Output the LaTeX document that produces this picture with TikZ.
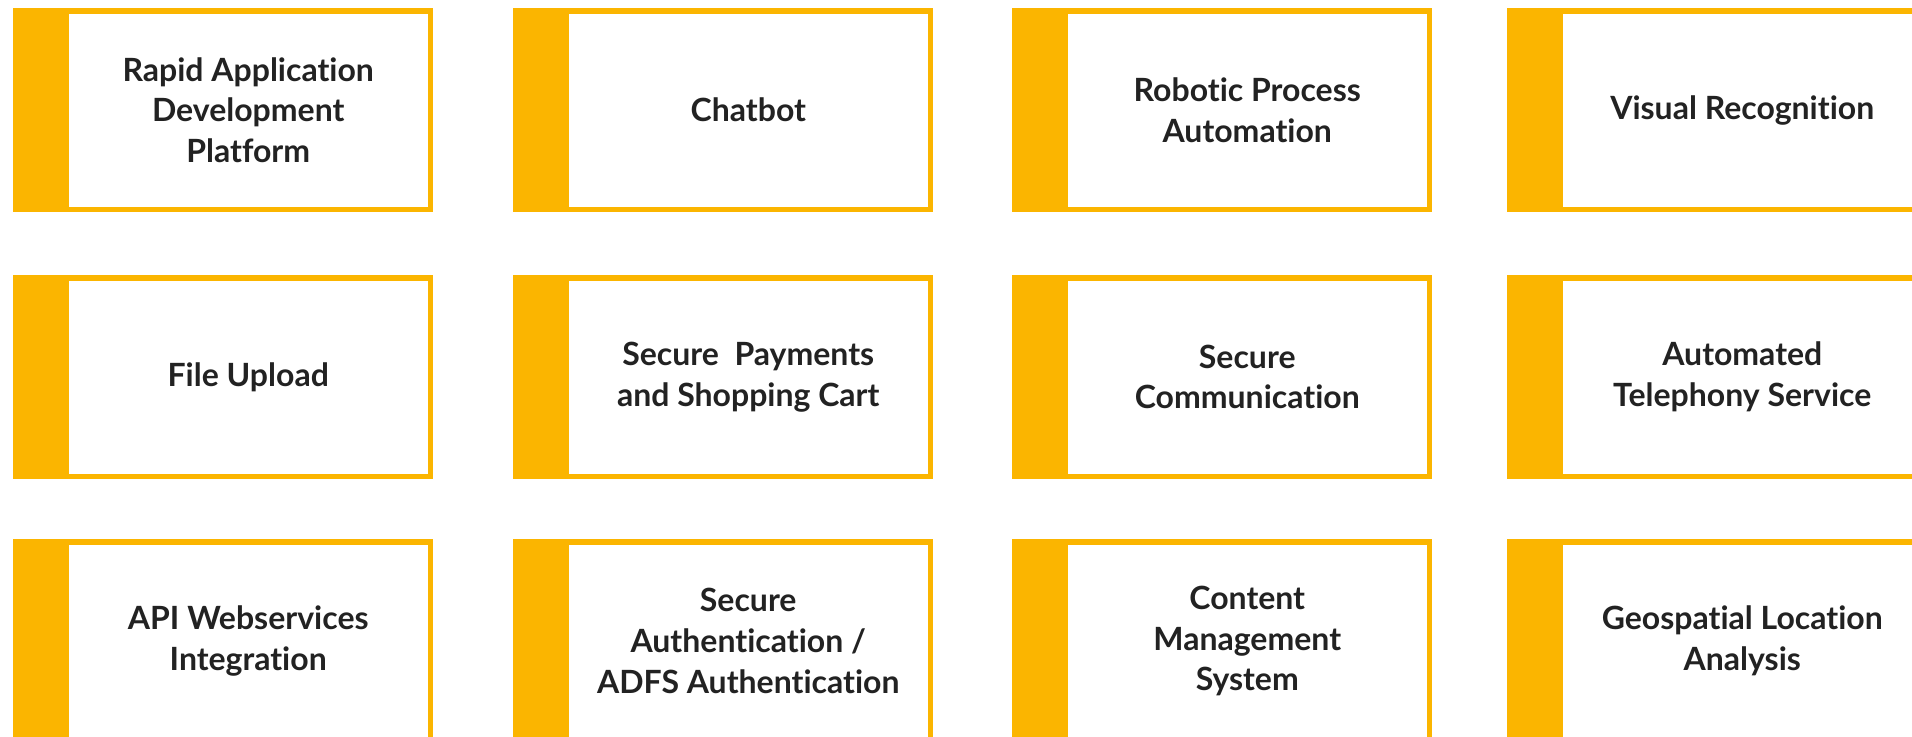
\documentclass[tikz,border=0pt]{standalone}
\usepackage{fontspec}
\setmainfont{Lato}[Ligatures=NoCommon]
\usepackage{xcolor}
\usepackage{tikz}
\usetikzlibrary{positioning}
\definecolor{tileGold}{HTML}{FBB500}
\definecolor{inkGrey}{HTML}{222222}

\begin{document}
\begin{tikzpicture}[x=0.5pt,y=-0.5pt,
  tile/.style={rectangle, draw=tileGold, line width=2.75pt, fill=white, outer sep=0pt,
    minimum width=182pt, minimum height=99.25pt, align=center, text=inkGrey,
    font=\fontsize{16}{20.3}\selectfont\bfseries}]
\useasboundingbox (0,0) rectangle (1912,736);
\clip (0,0) rectangle (1912,736);
% tiles: name / left edge / top edge / text
\foreach \n/\x/\y/\txt in {
  rad/13/7/{Rapid Application\\Development\\Platform},
  chat/513/7/{Chatbot},
  rpa/1012/7/{Robotic Process\\Automation},
  vis/1507/7/{Visual Recognition},
  upl/13/274/{File Upload},
  pay/513/274/{Secure\ \ Payments\\and Shopping Cart},
  comm/1012/274/{Secure\\Communication},
  tel/1507/274/{Automated\\Telephony Service},
  api/13/538/{API Webservices\\Integration},
  auth/513/538/{Secure\\Authentication /\\ADFS Authentication},
  cms/1012/538/{Content\\Management\\System},
  geo/1507/538/{Geospatial Location\\Analysis}}{
  \node[tile] (\n) at (\x+235.25,\y+103) {\txt};
  % gold bar on the left
  \fill[tileGold] ([shift={(-53.25,-2.75)}]\n.north west) rectangle ([shift={(2.75,2.75)}]\n.south west);
}
\end{tikzpicture}
\end{document}
